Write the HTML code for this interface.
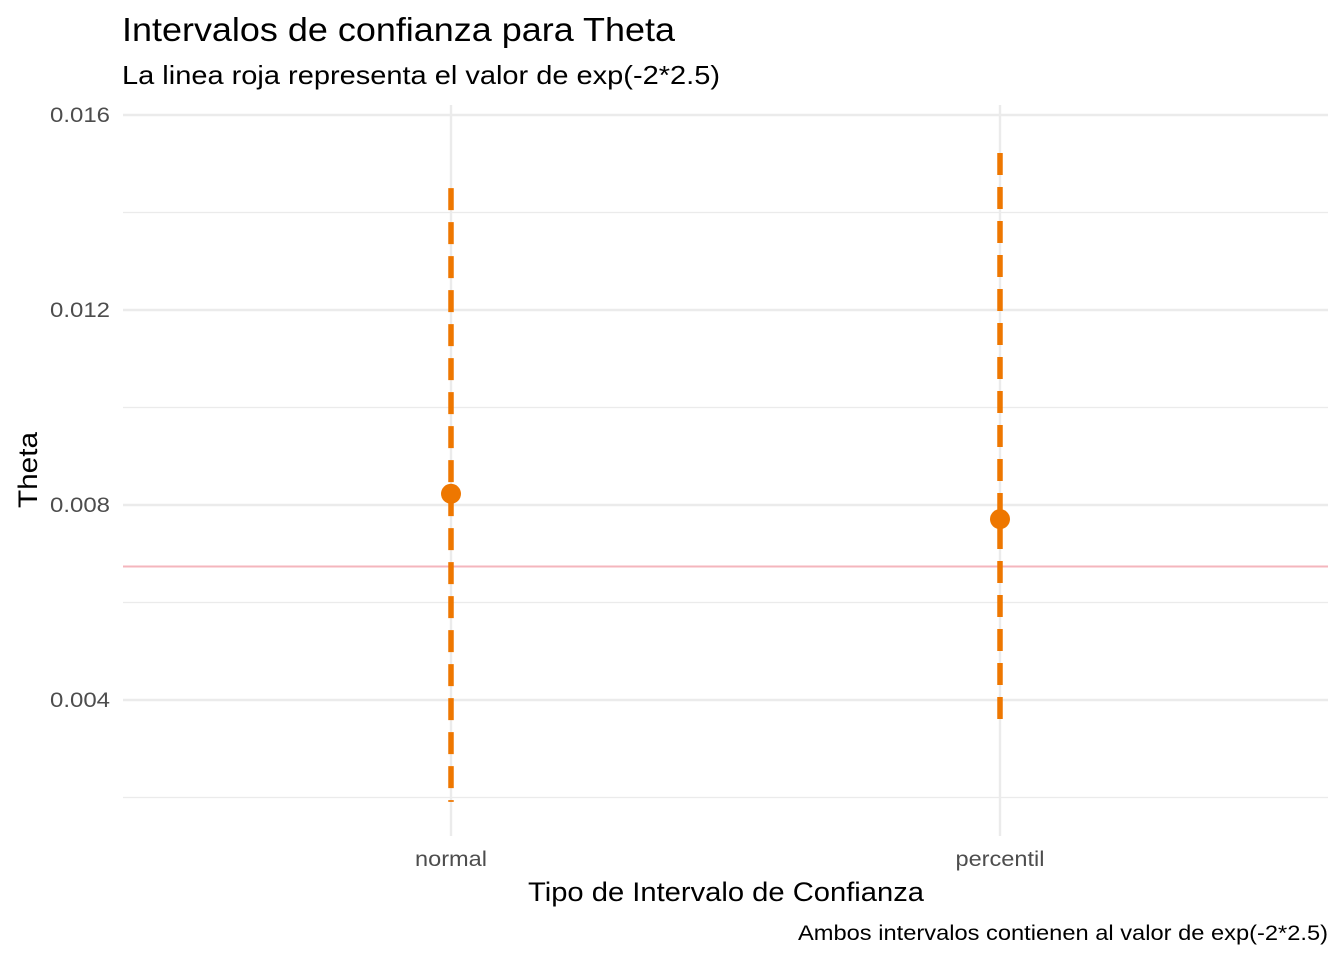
<!DOCTYPE html>
<html><head><meta charset="utf-8"><style>
body{margin:0;background:#fff;}
svg text{font-family:"Liberation Sans",sans-serif;}
</style></head><body>
<svg id="chart" width="1344" height="960">
<g id="grid"></g><g id="marks"></g>
<text x="122" y="41" font-size="33" textLength="553" lengthAdjust="spacingAndGlyphs" fill="#000">Intervalos de confianza para Theta</text>
<text x="122" y="84" font-size="26" textLength="598" lengthAdjust="spacingAndGlyphs" fill="#000">La linea roja representa el valor de exp(-2*2.5)</text>
<text x="528" y="901" font-size="27" textLength="396" lengthAdjust="spacingAndGlyphs" fill="#000">Tipo de Intervalo de Confianza</text>
<text x="0" y="0" font-size="27" textLength="76" lengthAdjust="spacingAndGlyphs" fill="#000" transform="translate(37 508) rotate(-90)">Theta</text>
<text x="798" y="940" font-size="21" textLength="530" lengthAdjust="spacingAndGlyphs" fill="#000">Ambos intervalos contienen al valor de exp(-2*2.5)</text>
</svg>
<script>
const categories=["normal","percentil"];
const lower=[0.00191,0.00361];
const upper=[0.0145,0.01522];
const estimate=[0.00823,0.00771];
const refValue=0.006738;
const yTicks=[0.004,0.008,0.012,0.016];
const yTickLabels=["0.004","0.008","0.012","0.016"];
const yMinor=[0.002,0.006,0.010,0.014];
const NS="http://www.w3.org/2000/svg";
const y=v=>115+(0.016-v)*48750;
const x=i=>451+i*549;
const catWidths=[72,89];
const grid=document.getElementById('grid'),marks=document.getElementById('marks');
function mk(tag,attrs,parent){const e=document.createElementNS(NS,tag);for(const k in attrs)e.setAttribute(k,attrs[k]);parent.appendChild(e);return e;}
yMinor.forEach(v=>{const l=mk('line',{x1:123,x2:1328,y1:y(v),y2:y(v),stroke:'#ebebeb','stroke-width':1.2},grid);

});
yTicks.forEach((v,i)=>{const l=mk('line',{x1:123,x2:1328,y1:y(v),y2:y(v),stroke:'#ebebeb','stroke-width':2.4},grid);


const t=mk('text',{x:50,y:y(v)+7,'font-size':21,textLength:60,lengthAdjust:'spacingAndGlyphs',fill:'#4d4d4d'},grid);t.textContent=yTickLabels[i];

});
categories.forEach((c,i)=>{const l=mk('line',{x1:x(i),x2:x(i),y1:105,y2:836,stroke:'#ebebeb','stroke-width':2.4},grid);


const t=mk('text',{x:x(i)-catWidths[i]/2,y:866,'font-size':21,textLength:catWidths[i],lengthAdjust:'spacingAndGlyphs',fill:'#4d4d4d'},grid);t.textContent=c;

});
const r=mk('line',{x1:123,x2:1328,y1:y(refValue),y2:y(refValue),stroke:'#f4b6bd','stroke-width':2},marks);


categories.forEach((c,i)=>{const l=mk('line',{x1:x(i),x2:x(i),y1:y(upper[i]),y2:y(lower[i]),stroke:'#ee7700','stroke-width':5.5,'stroke-dasharray':'22 12'},marks);


const p=mk('circle',{cx:x(i),cy:y(estimate[i]),r:10,fill:'#ee7700'},marks);

});
</script>
</body></html>
